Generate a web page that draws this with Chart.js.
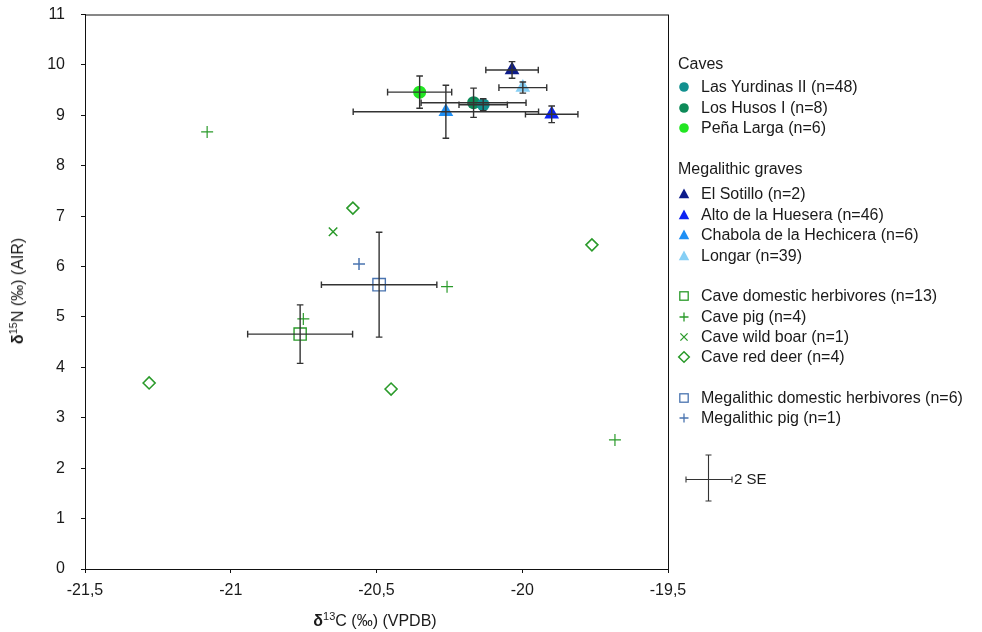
<!DOCTYPE html>
<html>
<head>
<meta charset="utf-8">
<script src="https://cdn.jsdelivr.net/npm/chart.js@4/dist/chart.umd.min.js"></script>
<style>
  body { margin: 0; background: #fff; }
  #wrap { position: relative; width: 982px; height: 632px; font-family: "Liberation Sans", Arial, sans-serif; color: #1a1a1a; }
  #chart { position: absolute; left: 0; top: 0; }
  .lg { position: absolute; font-size: 16px; line-height: 20px; white-space: nowrap; }
  .mk { position: absolute; }
  .axt { position: absolute; font-size: 16px; white-space: nowrap; transform: translate(-50%, -50%); }
  .axt sup { font-size: 11px; vertical-align: 6px; line-height: 0; }
</style>
</head>
<body>
<div id="wrap">
  <canvas id="chart" width="982" height="632"></canvas>
  <div class="axt" style="left:375px; top:621px;"><b>δ</b><sup>13</sup>C (‰) (VPDB)</div>
  <div class="axt" style="left:18px; top:291px; transform: translate(-50%, -50%) rotate(-90deg);"><b>δ</b><sup>15</sup>N (‰) (AIR)</div>
  <div id="legend"></div>
</div>
<script>
// human means (caves + megalithic graves), with 2 SE
const humanLabels = [
  "Las Yurdinas II (n=48)",
  "Los Husos I (n=8)",
  "Peña Larga (n=6)",
  "El Sotillo (n=2)",
  "Alto de la Huesera (n=46)",
  "Chabola de la Hechicera (n=6)",
  "Longar (n=39)",
];
const humanC = [-20.134, -20.167, -20.352, -20.035, -19.899, -20.262, -19.998];
const humanN = [9.21, 9.25, 9.46, 9.9, 9.02, 9.07, 9.55];
const humanCse = [0.083, 0.18, 0.11, 0.09, 0.09, 0.318, 0.082];
const humanNse = [0.12, 0.29, 0.32, 0.165, 0.165, 0.525, 0.11];

// fauna
const faunaLabels = [
  "Cave domestic herbivores (n=13)",
  "Cave pig (n=4)",
  "Cave wild boar (n=1)",
  "Cave red deer (n=4)",
  "Megalithic domestic herbivores (n=6)",
  "Megalithic pig (n=1)",
];
const caveHerbC = [-20.762];
const caveHerbN = [4.66];
const caveHerbCse = [0.18];
const caveHerbNse = [0.58];
const cavePigC = [-21.081, -20.258, -20.751, -19.682];
const cavePigN = [8.67, 5.6, 4.96, 2.56];
const caveBoarC = [-20.649];
const caveBoarN = [6.69];
const caveDeerC = [-20.581, -19.761, -21.28, -20.45];
const caveDeerN = [7.16, 6.43, 3.69, 3.57];
const megHerbC = [-20.491];
const megHerbN = [5.64];
const megHerbCse = [0.198];
const megHerbNse = [1.04];
const megPigC = [-20.56];
const megPigN = [6.05];

const xTicks = [-21.5, -21, -20.5, -20, -19.5];
const yTicks = [0, 1, 2, 3, 4, 5, 6, 7, 8, 9, 10, 11];

const humanColors = ["#12908f", "#0d8a58", "#22e622", "#0d1c8a", "#0c22f2", "#1e8ff5", "#86cff5"];
const humanStyles = ["circle", "circle", "circle", "triangle", "triangle", "triangle", "triangle"];
const caveGreen = "#2a9a2a";
const megBlue = "#4a74b0";

function pts(xs, ys) {
  return xs.map((x, i) => ({ x: x, y: ys[i] }));
}

const datasets = [];
humanLabels.forEach((lab, i) => {
  datasets.push({
    label: lab,
    data: [{ x: humanC[i], y: humanN[i] }],
    xErr: [humanCse[i]],
    yErr: [humanNse[i]],
    pointStyle: humanStyles[i],
    pointRadius: humanStyles[i] == "circle" ? 6.5 : 8.5,
    backgroundColor: humanColors[i],
    borderColor: humanColors[i],
    borderWidth: 0,
  });
});
datasets.push({
  label: faunaLabels[0], data: pts(caveHerbC, caveHerbN), xErr: caveHerbCse, yErr: caveHerbNse,
  pointStyle: "rect", pointRadius: 8.6, backgroundColor: "rgba(0,0,0,0)", borderColor: caveGreen, borderWidth: 1.4,
});
datasets.push({
  label: faunaLabels[1], data: pts(cavePigC, cavePigN),
  pointStyle: "cross", pointRadius: 6, borderColor: caveGreen, borderWidth: 1.2,
});
datasets.push({
  label: faunaLabels[2], data: pts(caveBoarC, caveBoarN),
  pointStyle: "crossRot", pointRadius: 6, borderColor: caveGreen, borderWidth: 1.5,
});
datasets.push({
  label: faunaLabels[3], data: pts(caveDeerC, caveDeerN),
  pointStyle: "rectRot", pointRadius: 6, backgroundColor: "#fff", borderColor: caveGreen, borderWidth: 1.6,
});
datasets.push({
  label: faunaLabels[4], data: pts(megHerbC, megHerbN), xErr: megHerbCse, yErr: megHerbNse,
  pointStyle: "rect", pointRadius: 8.8, backgroundColor: "rgba(0,0,0,0)", borderColor: megBlue, borderWidth: 1.4,
});
datasets.push({
  label: faunaLabels[5], data: pts(megPigC, megPigN),
  pointStyle: "cross", pointRadius: 6, borderColor: megBlue, borderWidth: 1.5,
});

// error bars (2 SE), drawn over the markers
const errorBars = {
  id: "errorBars",
  afterDatasetsDraw(chart) {
    const ctx = chart.ctx;
    const xs = chart.scales.x;
    const ys = chart.scales.y;
    const cap = 3.3;
    ctx.save();
    ctx.strokeStyle = "#333";
    ctx.lineWidth = 1.4;
    chart.data.datasets.forEach((ds) => {
      if (!ds.xErr) return;
      ds.data.forEach((p, i) => {
        const px = xs.getPixelForValue(p.x);
        const py = ys.getPixelForValue(p.y);
        const x1 = xs.getPixelForValue(p.x - ds.xErr[i]);
        const x2 = xs.getPixelForValue(p.x + ds.xErr[i]);
        const y1 = ys.getPixelForValue(p.y - ds.yErr[i]);
        const y2 = ys.getPixelForValue(p.y + ds.yErr[i]);
        ctx.beginPath();
        ctx.moveTo(x1, py); ctx.lineTo(x2, py);
        ctx.moveTo(x1, py - cap); ctx.lineTo(x1, py + cap);
        ctx.moveTo(x2, py - cap); ctx.lineTo(x2, py + cap);
        ctx.moveTo(px, y1); ctx.lineTo(px, y2);
        ctx.moveTo(px - cap, y1); ctx.lineTo(px + cap, y1);
        ctx.moveTo(px - cap, y2); ctx.lineTo(px + cap, y2);
        ctx.stroke();
      });
    });
    ctx.restore();
  },
};

// box around the plot
const frame = {
  id: "frame",
  afterDraw(chart) {
    const a = chart.chartArea;
    const ctx = chart.ctx;
    ctx.save();
    ctx.strokeStyle = "#111";
    ctx.lineWidth = 1;
    ctx.strokeRect(a.left + 0.5, a.top + 0.5, a.right - a.left, a.bottom - a.top);
    ctx.restore();
  },
};

const fmt = (v) => String(v).replace(".", ",");

new Chart(document.getElementById("chart"), {
  type: "scatter",
  data: { datasets: datasets },
  options: {
    responsive: false,
    animation: false,
    layout: { padding: { top: 14.5, right: 314, left: 0, bottom: 0 } },
    plugins: { legend: { display: false }, tooltip: { enabled: false } },
    scales: {
      x: {
        type: "linear",
        min: xTicks[0],
        max: xTicks[xTicks.length - 1],
        afterFit: (s) => { s.height = 63; s.paddingLeft = 0; s.paddingRight = 0; },
        afterBuildTicks: (s) => { s.ticks = xTicks.map((v) => ({ value: v })); },
        ticks: { callback: fmt, color: "#1a1a1a", font: { family: "Liberation Sans", size: 16 }, padding: 8, maxRotation: 0 },
        grid: { drawOnChartArea: false, drawTicks: true, tickLength: 4, color: "#111" },
        border: { color: "#111" },
      },
      y: {
        type: "linear",
        min: yTicks[0],
        max: yTicks[yTicks.length - 1],
        afterFit: (s) => { s.width = 85; s.paddingTop = 0; s.paddingBottom = 0; },
        afterBuildTicks: (s) => { s.ticks = yTicks.map((v) => ({ value: v })); },
        ticks: { callback: fmt, color: "#1a1a1a", font: { family: "Liberation Sans", size: 16 }, padding: 16 },
        grid: { drawOnChartArea: false, drawTicks: true, tickLength: 4, color: "#111" },
        border: { color: "#111" },
      },
    },
  },
  plugins: [errorBars, frame],
});

// legend, built as html
function marker(style, color, size) {
  const s = 14, c = 7;
  let body = "";
  if (style == "circle") body = `<circle cx="${c}" cy="${c}" r="${size}" fill="${color}"/>`;
  else if (style == "triangle") body = `<polygon points="${c},${c - size} ${c + size * 0.95},${c + size * 0.75} ${c - size * 0.95},${c + size * 0.75}" fill="${color}"/>`;
  else if (style == "rect") body = `<rect x="${c - size}" y="${c - size}" width="${size * 2}" height="${size * 2}" fill="none" stroke="${color}" stroke-width="1.3"/>`;
  else if (style == "cross") body = `<path d="M${c - size} ${c}H${c + size}M${c} ${c - size}V${c + size}" stroke="${color}" stroke-width="1.3"/>`;
  else if (style == "crossRot") body = `<path d="M${c - size} ${c - size}L${c + size} ${c + size}M${c + size} ${c - size}L${c - size} ${c + size}" stroke="${color}" stroke-width="1.3"/>`;
  else if (style == "rectRot") body = `<path d="M${c} ${c - size}L${c + size} ${c}L${c} ${c + size}L${c - size} ${c}Z" fill="none" stroke="${color}" stroke-width="1.5"/>`;
  return `<svg width="${s}" height="${s}" viewBox="0 0 ${s} ${s}">${body}</svg>`;
}

const legendRows = [
  { head: "Caves", y: 64 },
  { text: humanLabels[0], y: 87, st: "circle", col: humanColors[0], sz: 4.8 },
  { text: humanLabels[1], y: 108, st: "circle", col: humanColors[1], sz: 4.8 },
  { text: humanLabels[2], y: 128, st: "circle", col: humanColors[2], sz: 4.8 },
  { head: "Megalithic graves", y: 169 },
  { text: humanLabels[3], y: 194, st: "triangle", col: humanColors[3], sz: 5.5 },
  { text: humanLabels[4], y: 215, st: "triangle", col: humanColors[4], sz: 5.5 },
  { text: humanLabels[5], y: 235, st: "triangle", col: humanColors[5], sz: 5.5 },
  { text: humanLabels[6], y: 256, st: "triangle", col: humanColors[6], sz: 5.5 },
  { text: faunaLabels[0], y: 296, st: "rect", col: caveGreen, sz: 4.2 },
  { text: faunaLabels[1], y: 317, st: "cross", col: caveGreen, sz: 4.5 },
  { text: faunaLabels[2], y: 337, st: "crossRot", col: caveGreen, sz: 3.6 },
  { text: faunaLabels[3], y: 357, st: "rectRot", col: caveGreen, sz: 5.3 },
  { text: faunaLabels[4], y: 398, st: "rect", col: megBlue, sz: 4.2 },
  { text: faunaLabels[5], y: 418, st: "cross", col: megBlue, sz: 4.5 },
];

let html = "";
legendRows.forEach((r) => {
  if (r.head) {
    html += `<div class="lg" style="left:678px; top:${r.y - 10}px;">${r.head}</div>`;
  } else {
    html += `<div class="mk" style="left:${683.5 - 7}px; top:${r.y - 7}px;">${marker(r.st, r.col, r.sz)}</div>`;
    html += `<div class="lg" style="left:701px; top:${r.y - 10}px;">${r.text}</div>`;
  }
});
// 2 SE key
html += `<svg class="mk" style="left:680px; top:450px;" width="60" height="56">
  <path d="M6 29.5H52M6 26.5V32.5M52 26.5V32.5M28.5 5V51M25.5 5H31.5M25.5 51H31.5" stroke="#333" stroke-width="1.1" fill="none"/>
</svg>`;
html += `<div class="lg" style="left:734px; top:469px; font-size:15px;">2 SE</div>`;
document.getElementById("legend").innerHTML = html;
</script>
</body>
</html>
